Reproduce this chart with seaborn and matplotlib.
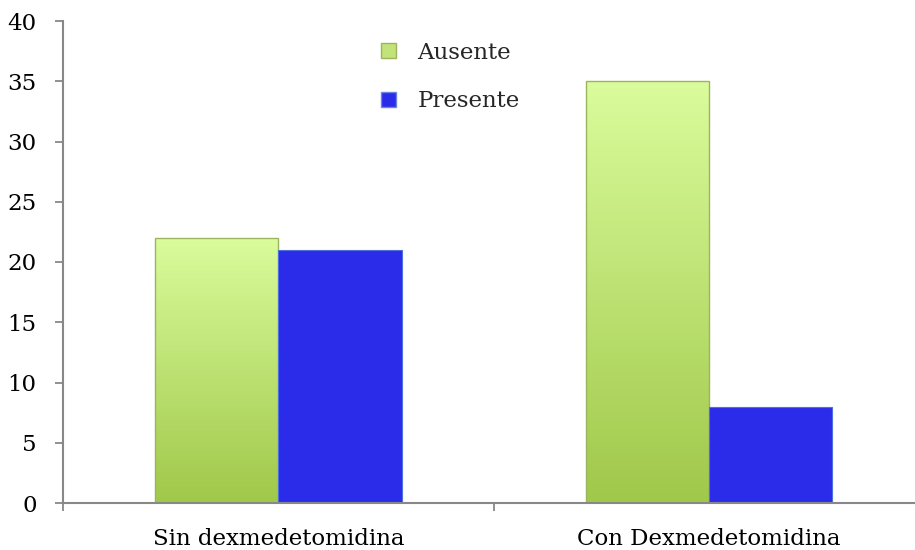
import numpy as np
import pandas as pd
import matplotlib
matplotlib.use("Agg")
import matplotlib.pyplot as plt
import seaborn as sns
from matplotlib.patches import Patch
from matplotlib.colors import LinearSegmentedColormap

# Data
groups = ["Sin dexmedetomidina", "Con Dexmedetomidina"]
series = ["Ausente", "Presente"]
ausente = [22, 35]
presente = [21, 8]
y_ticks = [0, 5, 10, 15, 20, 25, 30, 35, 40]

df = pd.DataFrame({
    "grupo": groups * 2,
    "estado": [series[0]] * 2 + [series[1]] * 2,
    "valor": ausente + presente,
})

sns.set_theme(style="white")
plt.rcParams["font.family"] = ["DejaVu Serif", "Liberation Serif"]
FS = 16.5

fig = plt.figure(figsize=(9.15, 5.5), dpi=100)
ax = fig.add_axes([63 / 915, 47 / 550, (924.5 - 63) / 915, (503 - 21) / 550])

green_top = "#dafc9c"
green_bot = "#a0c84a"
blue = "#2b2bea"

sns.barplot(data=df, x="grupo", y="valor", hue="estado", order=groups,
            hue_order=series, palette=[green_bot, blue], width=0.572,
            dodge=True, ax=ax, legend=False, saturation=1)

# Green bars: vertical gradient, light at top and darker at the base
cmap = LinearSegmentedColormap.from_list("verde", [green_bot, green_top])
grad = np.linspace(0, 1, 256).reshape(-1, 1)
for bar in ax.containers[0]:
    x0, y0 = bar.get_x(), bar.get_y()
    w, h = bar.get_width(), bar.get_height()
    bar.set_facecolor("none")
    bar.set_edgecolor("#9db45e")
    bar.set_linewidth(1.0)
    bar.set_zorder(3)
    im = ax.imshow(grad, cmap=cmap, origin="lower", aspect="auto",
                   extent=[x0, x0 + w, y0, y0 + h], zorder=2,
                   interpolation="bicubic")
    im.set_clip_path(bar)

for bar in ax.containers[1]:
    bar.set_facecolor(blue)
    bar.set_edgecolor("#4f6fe0")
    bar.set_linewidth(0.8)
    bar.set_zorder(3)

ax.set_xlim(-0.5, 1.5)
ax.set_ylim(0, 40)
ax.set_yticks(y_ticks)
ax.set_yticklabels([str(t) for t in y_ticks])

# Category boundaries carry the tick marks, labels sit at the centres
ax.set_xticks([-0.5, 0.5, 1.5])
ax.set_xticklabels(["", "", ""])
ax.set_xticks([0, 1], minor=True)
ax.set_xticklabels(groups, minor=True)
ax.tick_params(axis="x", which="minor", length=0, pad=18, labelsize=FS,
               colors="black")
ax.tick_params(axis="x", which="major", length=6, width=1.3, color="#888888",
               direction="out", bottom=True)
ax.tick_params(axis="y", length=6, width=1.3, color="#888888", direction="out",
               left=True, pad=13, labelsize=FS, labelcolor="black")
for lab in ax.get_xticklabels(minor=True):
    lab.set_color("black")

ax.set_xlabel("")
ax.set_ylabel("")
for side in ["top", "right"]:
    ax.spines[side].set_visible(False)
for side in ["left", "bottom"]:
    ax.spines[side].set_color("#888888")
    ax.spines[side].set_linewidth(1.5)
ax.spines["bottom"].set_zorder(4)

handles = [
    Patch(facecolor="#c2e27a", edgecolor="#9db45e", label=series[0]),
    Patch(facecolor=blue, edgecolor="#6a86e0", label=series[1]),
]
fig.legend(handles=handles, loc="upper left", bbox_to_anchor=(360 / 915, 1 - 21 / 550),
           frameon=False, fontsize=FS, handlelength=0.66, handleheight=0.66,
           handletextpad=0.95, labelspacing=1.17)

fig.savefig("out.png", dpi=100)
